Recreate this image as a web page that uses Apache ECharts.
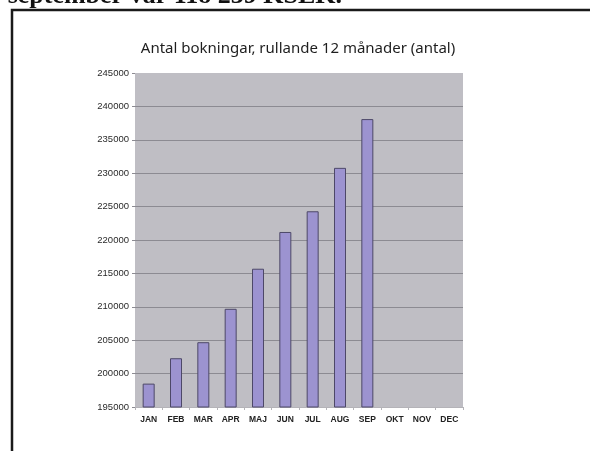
<!DOCTYPE html>
<html>
<head>
<meta charset="utf-8">
<script src="https://cdn.jsdelivr.net/npm/echarts@6/dist/echarts.min.js"></script>
<style>
html,body{margin:0;padding:0;background:#fff;}
#chart{width:590px;height:451px;}
</style>
</head>
<body>
<div id="chart"></div>
<script>
const months = ['JAN','FEB','MAR','APR','MAJ','JUN','JUL','AUG','SEP','OKT','NOV','DEC'];
const bookings = [198500, 202300, 204700, 209700, 215700, 221200, 224300, 230800, 238100, null, null, null];
const titleText = 'Antal bokningar, rullande 12 månader (antal)';
const headerText = 'september var 118 239 KSEK.';

const chart = echarts.init(document.getElementById('chart'));
chart.setOption({
  backgroundColor: '#ffffff',
  animation: false,
  title: {
    text: titleText,
    left: 293,
    textAlign: 'center',
    top: 36,
    textStyle: {fontFamily: 'Noto Sans', fontSize: 15, fontWeight: 'normal', color: '#1e1e1e'}
  },
  graphic: [
    {type: 'rect', z: 100, shape: {x: 12, y: 10, width: 620, height: 500},
     style: {fill: null, stroke: '#1a1a1a', lineWidth: 2.5}},
    {type: 'text', z: 100, style: {text: headerText, x: 342, y: 9, textAlign: 'right', textVerticalAlign: 'bottom',
      font: 'bold 26px "Liberation Serif", "Times New Roman", serif', fill: '#111'}}
  ],
  grid: {left: 135, top: 73, width: 328, height: 334, show: true, backgroundColor: '#bfbec4', borderWidth: 0},
  xAxis: {
    type: 'category',
    data: months,
    axisLine: {lineStyle: {color: '#b4b3b8', width: 1}},
    axisTick: {show: true, length: 3, lineStyle: {color: '#b4b3b8'}},
    axisLabel: {color: '#222', fontFamily: 'Liberation Sans', fontSize: 8.5, fontWeight: 'bold', margin: 8}
  },
  yAxis: {
    type: 'value',
    min: 195000,
    max: 245000,
    interval: 5000,
    axisLine: {show: false},
    axisTick: {show: true, length: 3, lineStyle: {color: '#8c8b92'}},
    axisLabel: {color: '#2a2a2a', fontFamily: 'Liberation Sans', fontSize: 9.5, margin: 6,
      formatter: function (v) { return String(v); }},
    splitLine: {show: true, showMaxLine: false, showMinLine: false, lineStyle: {color: '#8c8b92', width: 1.2}}
  },
  series: [{
    type: 'bar',
    data: bookings,
    barWidth: 12,
    itemStyle: {color: '#9c93d0', borderColor: '#4d4868', borderWidth: 1}
  }]
});
</script>
</body>
</html>
